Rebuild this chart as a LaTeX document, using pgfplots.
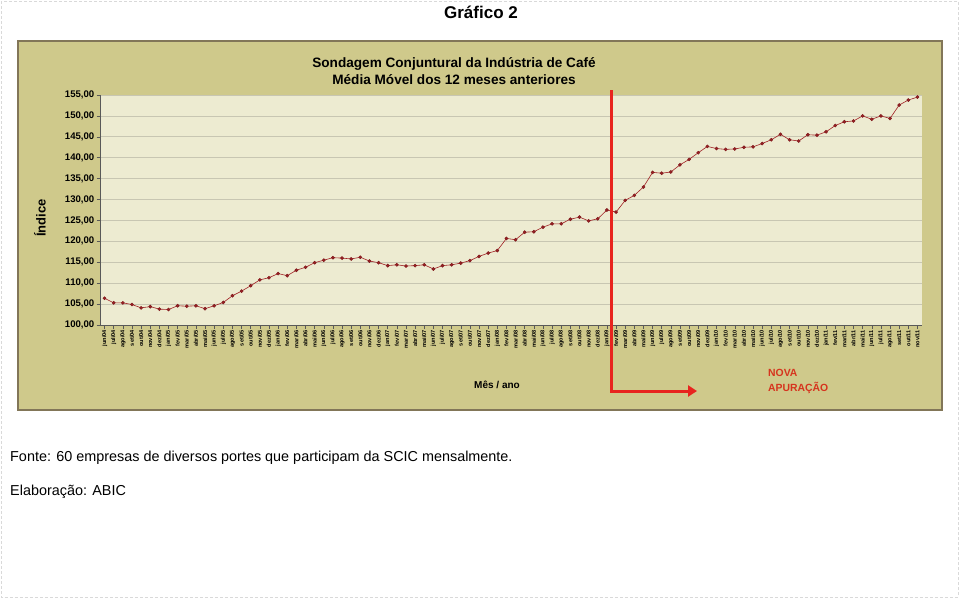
\documentclass[border=0pt]{standalone}
\usepackage{pgfplots}
\pgfplotsset{compat=1.18}
\usepackage{fontspec}
\setmainfont{Liberation Sans}
\usetikzlibrary{arrows.meta}

\definecolor{outer}{RGB}{207,201,139}
\definecolor{frame}{RGB}{130,118,88}
\definecolor{plotbg}{RGB}{237,235,209}
\definecolor{gridc}{RGB}{200,198,178}
\definecolor{serie}{RGB}{160,32,36}
\definecolor{arrowred}{RGB}{232,36,30}
\definecolor{notered}{RGB}{214,52,30}

\pgfplotstableread{
x y
0 106.4
1 105.3
2 105.3
3 104.9
4 104.1
5 104.4
6 103.8
7 103.7
8 104.6
9 104.5
10 104.6
11 103.9
12 104.6
13 105.4
14 107.0
15 108.1
16 109.4
17 110.8
18 111.3
19 112.3
20 111.8
21 113.1
22 113.8
23 114.9
24 115.5
25 116.1
26 116.0
27 115.8
28 116.2
29 115.3
30 114.9
31 114.2
32 114.4
33 114.1
34 114.2
35 114.4
36 113.4
37 114.2
38 114.4
39 114.8
40 115.4
41 116.4
42 117.2
43 117.8
44 120.7
45 120.4
46 122.2
47 122.3
48 123.4
49 124.2
50 124.2
51 125.3
52 125.8
53 124.9
54 125.4
55 127.5
56 127.0
57 129.8
58 131.0
59 133.0
60 136.5
61 136.3
62 136.6
63 138.3
64 139.6
65 141.2
66 142.7
67 142.2
68 142.0
69 142.1
70 142.5
71 142.6
72 143.4
73 144.3
74 145.6
75 144.3
76 144.0
77 145.5
78 145.4
79 146.2
80 147.7
81 148.6
82 148.8
83 150.0
84 149.2
85 150.0
86 149.4
87 152.6
88 153.8
89 154.5
}\indice

\begin{document}
\begin{tikzpicture}[x=1pt,y=1pt]
% page
\path (0,0) rectangle (960,-600);
\draw[gray!30, densely dashed] (1,-1) rectangle (958,-597);
\node[font=\bfseries\fontsize{17}{20}\selectfont] at (481,-12) {Gráfico 2};
% chart frame
\fill[outer] (18,-41) rectangle (942,-410);
\draw[frame, line width=1.2] (18,-41) rectangle (942,-410);
\node[font=\bfseries\fontsize{13.6}{16.5}\selectfont, align=center] at (454,-71)
  {Sondagem Conjuntural da Indústria de Café\\Média Móvel dos 12 meses anteriores};
\node[font=\bfseries\fontsize{13}{15}\selectfont, rotate=90] at (40,-218) {Índice};
\node[font=\bfseries\fontsize{10}{12}\selectfont] at (497,-385) {Mês / ano};

\begin{axis}[
  at={(100pt,-325pt)}, anchor=south west,
  scale only axis, width=822pt, height=230pt,
  xmin=-0.5, xmax=89.5, ymin=100, ymax=155,
  axis background/.style={fill=plotbg},
  axis x line*=bottom, axis y line*=left,
  axis line style={gray!70!black, line width=0.6},
  ytick={100,105,...,155},
  ymajorgrids, grid style={gridc, line width=0.8},
  xtick={0,...,89},
  xticklabels={jun/04,jul/04,ago/04,set/04,out/04,nov/04,dez/04,
    jan/05,fev/05,mar/05,abr/05,mai/05,jun/05,jul/05,ago/05,set/05,out/05,nov/05,dez/05,
    jan/06,fev/06,mar/06,abr/06,mai/06,jun/06,jul/06,ago/06,set/06,out/06,nov/06,dez/06,
    jan/07,fev/07,mar/07,abr/07,mai/07,jun/07,jul/07,ago/07,set/07,out/07,nov/07,dez/07,
    jan/08,fev/08,mar/08,abr/08,mai/08,jun/08,jul/08,ago/08,set/08,out/08,nov/08,dez/08,
    jan/09,fev/09,mar/09,abr/09,mai/09,jun/09,jul/09,ago/09,set/09,out/09,nov/09,dez/09,
    jan/10,fev/10,mar/10,abr/10,mai/10,jun/10,jul/10,ago/10,set/10,out/10,nov/10,dez/10,
    jan/11,fev/11,mar/11,abr/11,mai/11,jun/11,jul/11,ago/11,set/11,out/11,nov/11},
  tick align=outside, major tick length=3.5pt,
  tick style={gray!70!black, line width=0.5},
  x tick label style={rotate=90, anchor=east, font=\bfseries\fontsize{5.6}{6.5}\selectfont, inner sep=1.5pt},
  y tick label style={font=\bfseries\fontsize{9.6}{11}\selectfont, inner sep=2pt},
  yticklabel style={/pgf/number format/.cd, fixed, fixed zerofill, precision=2, use comma},
  /pgf/number format/assume math mode=true,
]
\addplot[serie, line width=0.6, mark=*, mark size=1.5pt, mark options={fill=serie, draw=serie!80!black}]
  table[x=x, y=y] {\indice};
\end{axis}

% nova apuracao arrow
\draw[arrowred, line width=3, -{Triangle[length=9pt, width=11pt]}, line join=miter]
  (611,-90) -- (611,-391) -- (697,-391);
\node[anchor=north west, align=left, text=notered, font=\bfseries\fontsize{10.4}{15}\selectfont, inner sep=0]
  at (768,-369) {NOVA\\APURAÇÃO};

% notes
\node[anchor=base west, inner sep=0, font=\fontsize{14.4}{16}\selectfont] at (10,-461)
  {Fonte: 60 empresas de diversos portes que participam da SCIC mensalmente.};
\node[anchor=base west, inner sep=0, font=\fontsize{14.4}{16}\selectfont] at (10,-495)
  {Elaboração: ABIC};
\end{tikzpicture}
\end{document}
